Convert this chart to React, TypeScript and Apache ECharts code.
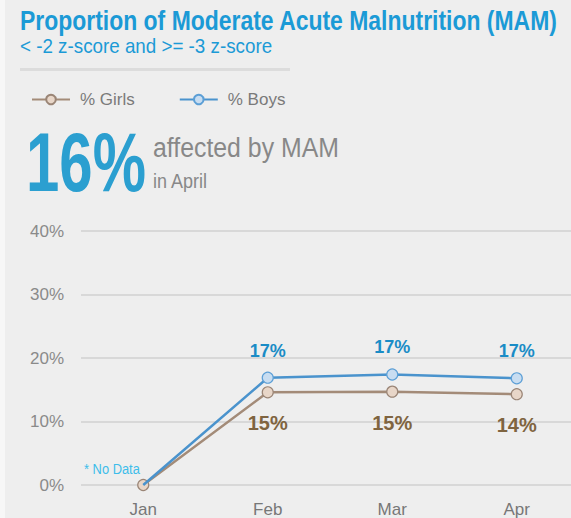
import React, { useEffect, useRef } from "react";
import * as echarts from "echarts";

const months = ["Jan", "Feb", "Mar", "Apr"];
const girls = [0, 14.6, 14.7, 14.3];
const boys = [0, 16.9, 17.4, 16.8];
const girlsLabels = ["", "15%", "15%", "14%"];
const boysLabels = ["", "17%", "17%", "17%"];
const noData = [true, false, false, false];
const yTicks = [0, 10, 20, 30, 40];

const SANS = "Liberation Sans, Arial, sans-serif";

function txt(text: string, x: number, y: number, font: string, fill: string, scaleX: number) {
  return {
    type: "text",
    x,
    y,
    scaleX,
    style: { text, font, fill, align: "left", verticalAlign: "middle" },
  };
}

export default function App() {
  const ref = useRef<HTMLDivElement>(null);
  useEffect(() => {
    document.body.style.margin = "0";
    document.body.style.overflow = "hidden";
    const chart = echarts.init(ref.current!, null, { renderer: "svg" });
    chart.setOption({
      animation: false,
      backgroundColor: "#eeeeee",
      textStyle: { fontFamily: SANS },
      legend: {
        left: 26,
        top: 86,
        itemWidth: 38,
        itemHeight: 12,
        itemGap: 44,
        textStyle: { color: "#7a7a7a", fontSize: 17, fontFamily: SANS, padding: [0, 0, 0, 5] },
        data: ["% Girls", "% Boys"],
      },
      grid: { left: 81, right: 0, top: 231, bottom: 33 },
      xAxis: {
        type: "category",
        data: months,
        boundaryGap: true,
        axisLine: { show: false },
        axisTick: { show: false },
        axisLabel: { color: "#777777", fontSize: 17, margin: 16, fontFamily: SANS },
      },
      yAxis: {
        type: "value",
        min: yTicks[0],
        max: yTicks[yTicks.length - 1],
        interval: 10,
        axisLine: { show: false },
        axisTick: { show: false },
        splitLine: { lineStyle: { color: "#d8d8d8", width: 2 } },
        axisLabel: { color: "#8a8a8a", fontSize: 17, margin: 17, fontFamily: SANS, formatter: "{value}%" },
      },
      series: [
        {
          name: "% Girls",
          type: "line",
          data: girls,
          symbol: "circle",
          symbolSize: 11,
          z: 2,
          lineStyle: { color: "#a38b78", width: 2.5 },
          itemStyle: { color: "#e8d6c8", borderColor: "#9a8576", borderWidth: 1.2 },
          label: {
            show: true,
            position: "bottom",
            distance: 15,
            color: "#7f6440",
            fontSize: 20,
            fontWeight: "bold",
            fontFamily: SANS,
            formatter: (p: any) => girlsLabels[p.dataIndex],
          },
        },
        {
          name: "% Boys",
          type: "line",
          data: boys.map((v, i) => (noData[i] ? { value: v, symbol: "none" } : v)),
          symbol: "circle",
          symbolSize: 11,
          z: 3,
          lineStyle: { color: "#4a93cd", width: 2.5 },
          itemStyle: { color: "#c8ddf1", borderColor: "#5c9fd6", borderWidth: 1.2 },
          label: {
            show: true,
            position: "top",
            distance: 12,
            color: "#1a8cc6",
            fontSize: 18,
            fontWeight: "bold",
            fontFamily: SANS,
            formatter: (p: any) => boysLabels[p.dataIndex],
          },
        },
      ],
      graphic: [
        { type: "rect", x: 0, y: 0, shape: { width: 5, height: 518 }, style: { fill: "#f7f7f7" }, z: -1 },
        txt("Proportion of Moderate Acute Malnutrition (MAM)", 20, 20, `bold 27px ${SANS}`, "#1b9ad6", 0.85),
        txt("< -2 z-score and >= -3 z-score", 20, 46, `20px ${SANS}`, "#1b9ad6", 0.94),
        { type: "rect", x: 20, y: 68, shape: { width: 270, height: 3 }, style: { fill: "#dcdcdc" } },
        txt("16%", 26, 162, `bold 84px ${SANS}`, "#2b9fd0", 0.714),
        txt("affected by MAM", 153, 148, `27px ${SANS}`, "#888888", 0.92),
        txt("in April", 153, 181, `20px ${SANS}`, "#888888", 0.9),
        txt("* No Data", 84, 469, `15px ${SANS}`, "#3dbdea", 0.86),
      ],
    });
    return () => chart.dispose();
  }, []);
  return <div ref={ref} style={{ width: 579, height: 518 }} />;
}
